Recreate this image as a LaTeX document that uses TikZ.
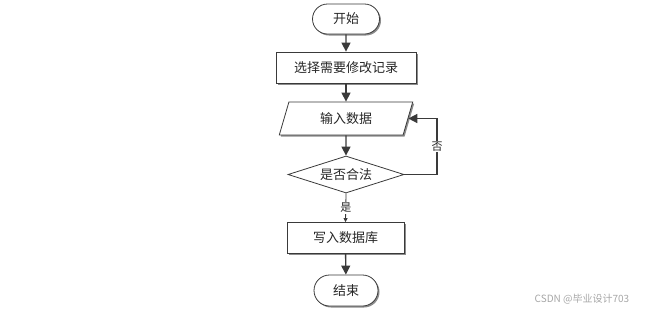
\documentclass[tikz,border=0pt]{standalone}
\usepackage{fontspec}
\newfontfamily\cjk{Noto Sans CJK SC}
\usetikzlibrary{shapes.geometric,shapes.misc,arrows.meta,shadows}
\definecolor{ln}{HTML}{3A3A3A}
\tikzset{
  base/.style={draw=ln, line width=0.8pt, fill=white, font=\cjk\fontsize{13}{15}\selectfont, text=black!85, inner sep=0pt},
  shad/.style={drop shadow={shadow xshift=1.5pt, shadow yshift=-1.5pt, fill=black!45, opacity=1}},
  term/.style={base, shad, rounded rectangle, minimum width=67pt, minimum height=30pt},
  proc/.style={base, shad, rectangle, minimum height=31pt},
  io/.style={base, shad, trapezium, trapezium left angle=70, trapezium right angle=110, trapezium stretches=true, minimum width=134pt, minimum height=33pt},
  dec/.style={base, diamond, aspect=3.1, minimum width=116pt, minimum height=37pt},
  arr/.style={draw=ln, line width=1.4pt, -{Triangle[length=9pt,width=9pt]}},
  lbl/.style={font=\cjk\fontsize{11}{13}\selectfont, fill=white, inner sep=1pt, text=black!85}
}
\begin{document}
\begin{tikzpicture}[x=1pt,y=-1pt]
\useasboundingbox (0,0) rectangle (651,314);
\node[term] (start) at (346,19) {开始};
\node[proc, minimum width=140pt] (sel) at (346,67.5) {选择需要修改记录};
\node[io] (inp) at (346,118.5) {输入数据};
\node[dec] (chk) at (346,174.5) {是否合法};
\node[proc, minimum width=117pt] (wr) at (345.5,238) {写入数据库};
\node[term, minimum width=64pt, minimum height=31pt] (end) at (346,290.5) {结束};
\coordinate (rc) at (437,174.5);
\draw[arr] (start) -- (sel);
\draw[arr] (sel) -- (inp);
\draw[arr] (inp) -- (chk);
\draw[arr] (chk.east) -- (rc) |- (inp.east) node[lbl, pos=0.25] {否};
\draw[draw=ln, line width=0.8pt, -{Triangle[length=4pt,width=4pt]}] (chk.south) -- (wr.north) node[lbl, midway] {是};
\draw[arr] (wr) -- (end);
\node[font=\cjk\fontsize{10}{12}\selectfont, text=black!35] (wm) at (582,299) {CSDN @毕业设计703};
\end{tikzpicture}
\end{document}
